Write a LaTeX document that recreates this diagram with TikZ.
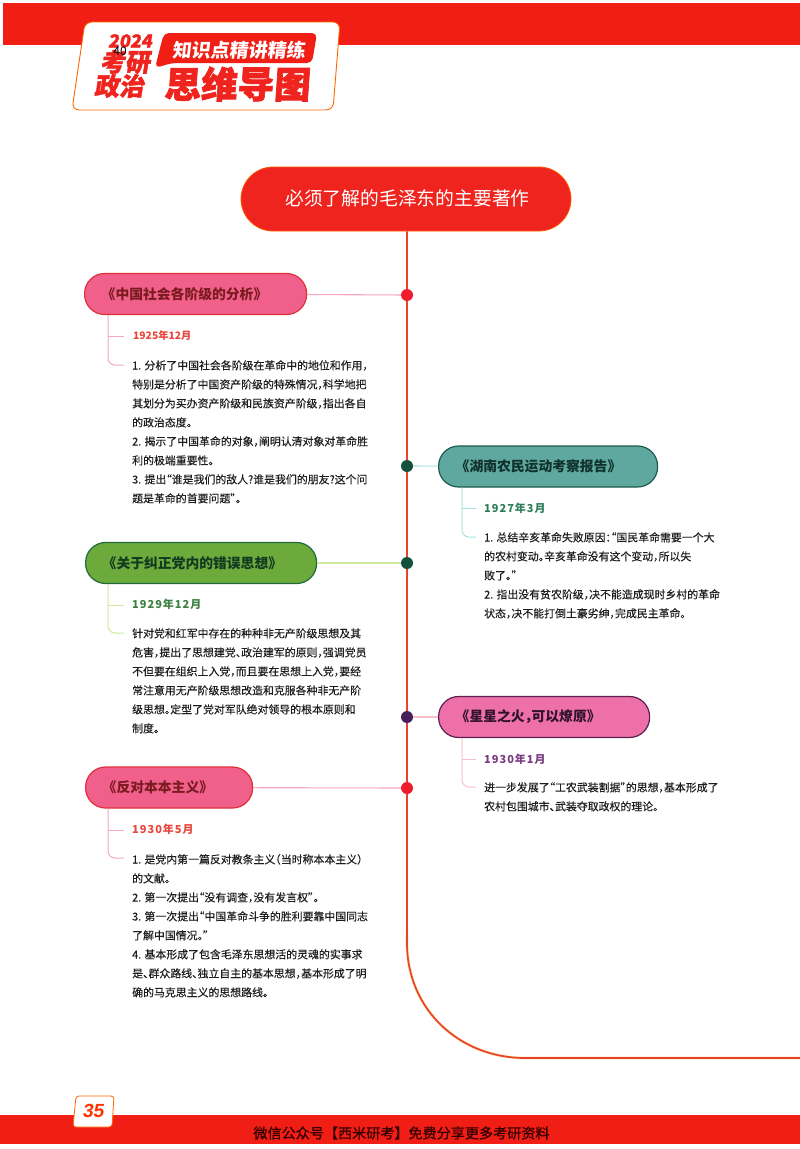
\documentclass[tikz,border=0pt]{standalone}
\usepackage{fontspec}
\setmainfont{Noto Sans CJK SC}[RawFeature=+halt]
\newfontfamily\bodyfont[RawFeature=+halt,FakeBold=0.35]{Noto Sans CJK SC}
\newfontfamily\datefont[LetterSpace=9]{Noto Sans CJK SC}
\newfontfamily\footfont[FakeBold=0.5]{Noto Sans CJK SC}
\newfontfamily\hdfont[FakeSlant=0.16,FakeBold=1.6]{Noto Sans CJK SC}
\newfontfamily\hdbig[FakeSlant=0.07,FakeBold=1.8]{Noto Sans CJK SC}
\newfontfamily\hdsmall[FakeSlant=0.12]{Noto Sans CJK SC}
\newfontfamily\numfont[FakeSlant=0.16]{Liberation Sans}
\usetikzlibrary{calc}
\definecolor{bandred}{HTML}{F01E14}
\definecolor{mainline}{HTML}{E9432E}
\definecolor{halo}{HTML}{FBE3A8}
\definecolor{bodyink}{HTML}{1E1E1E}
\definecolor{titlered}{HTML}{F0241E}
\definecolor{darkgreen}{HTML}{14503C}
\definecolor{plum}{HTML}{45205A}
\definecolor{dotred}{HTML}{EE1C2C}
\definecolor{pinkfill}{HTML}{F0608A}
\definecolor{pinkedge}{HTML}{E0303A}
\definecolor{tealfill}{HTML}{5FA8A0}
\definecolor{tealedge}{HTML}{1D5A50}
\definecolor{greenfill}{HTML}{6DAA3C}
\definecolor{greenedge}{HTML}{1F6B3A}
\definecolor{rosefill}{HTML}{EE70A8}
\definecolor{roseedge}{HTML}{5A2050}
\definecolor{pinklink}{HTML}{F5A8C0}
\definecolor{cyanlink}{HTML}{A8E0E0}
\definecolor{limelink}{HTML}{CDEB9A}
\definecolor{roselink}{HTML}{F5C0C8}
\definecolor{dred}{HTML}{E8453C}
\definecolor{dteal}{HTML}{2E7D5A}
\definecolor{dgreen}{HTML}{3C8040}
\definecolor{dplum}{HTML}{7A3A80}
\newcommand{\ptxt}[1]{\raisebox{-1.5pt}{#1}}
\tikzset{
  pill/.style n args={3}{draw=#2,fill=#1,line width=1.2pt,rounded corners=20pt,anchor=west,
    minimum height=41pt,text width=#3,inner xsep=24pt,inner ysep=0pt,align=left,
    font=\fontsize{13.8}{16}\selectfont\bfseries,text=#2!55!black},
  dotnode/.style={circle,fill=#1,inner sep=0pt,minimum size=12pt},
  datelabel/.style={anchor=west,inner sep=0pt,font=\fontsize{11}{12}\datefont\selectfont\bfseries,text=#1},
  bodytext/.style={anchor=north west,inner sep=0pt,align=left,text=bodyink,
    font=\bodyfont\fontsize{10.9}{19}\selectfont},
  subline/.style={draw=#1,line width=1pt},
  linkline/.style={draw=#1,line width=1.1pt}
}
\begin{document}
\begin{tikzpicture}[x=1pt,y=-1pt]
\useasboundingbox (0,0) rectangle (800,1149);
% header
\fill[bandred] (3,3) rectangle (800,45);
\draw[draw=orange!80!red,fill=white,line width=.9pt,rounded corners=7pt] (85,22) -- (340,22) -- (333,110) -- (72,110) -- cycle;
\fill[bandred,rounded corners=5pt] (164,33) -- (317,33) -- (312,63) -- (172,63) -- (155,68) -- (160,48) -- cycle;
\node[inner sep=0pt,text=titlered] (yr) at (130,41) {\hdfont\fontsize{18}{20}\selectfont\bfseries 2024};
\node[inner sep=0pt,text=titlered] (kaoyan) at (125,62) {\hdfont\fontsize{25}{25}\selectfont\bfseries 考研};
\node[inner sep=0pt,text=titlered] (zhengzhi) at (119,86) {\hdfont\fontsize{25}{25}\selectfont\bfseries 政治};
\node[inner sep=0pt,text=black] (pg) at (120,51) {\fontsize{12}{12}\selectfont 40};
\node[inner sep=0pt,text=white] (zsd) at (239,50) {\hdsmall\fontsize{19}{20}\selectfont\bfseries 知识点精讲精练};
\node[inner sep=0pt,text=titlered] (swdt) at (237,84) {\hdbig\fontsize{36.5}{38}\selectfont\bfseries 思维导图};
% footer
\fill[bandred] (0,1115) rectangle (800,1144);
\draw[draw=orange!80!red,fill=white,line width=.8pt,rounded corners=3pt] (76,1096) -- (114,1096) -- (112,1127) -- (73,1127) -- cycle;
\node[inner sep=0pt,text=orange!40!red] (num) at (93,1111) {\numfont\fontsize{19}{22}\selectfont\bfseries 35};
\node[inner sep=0pt,text=black!80!red] (foot) at (401.5,1133) {\footfont\fontsize{14.1}{15}\selectfont 微信公众号【西米研考】免费分享更多考研资料};
% title
\node[draw=orange!70!red,fill=titlered,line width=.8pt,rounded corners=32pt,minimum width=330pt,minimum height=64pt,inner sep=0pt,text=white] (title) at (406,199) {\raisebox{3pt}{\fontsize{18.8}{20}\selectfont\hspace{3pt}必须了解的毛泽东的主要著作}};
\coordinate (lineend) at (800,1058);
\coordinate (vmain) at (407,0);
% main line
\draw[halo,line width=2.8pt] (407,930) -- (407,943) .. controls (407,1010) and (460,1058) .. (525,1058) -- (lineend);
\draw[mainline,line width=1.7pt] (title.south -| vmain) -- (407,943) .. controls (407,1010) and (460,1058) .. (525,1058) -- (lineend);
% dots
\node[dotnode=dotred] (d1) at (407,295) {};
\node[dotnode=darkgreen] (d2) at (407,466) {};
\node[dotnode=darkgreen] (d3) at (407,563) {};
\node[dotnode=plum] (d4) at (407,717) {};
\node[dotnode=dotred] (d5) at (407,788) {};
% pills
\node[pill={pinkfill}{pinkedge}{174pt}] (p1) at (84,294) {\ptxt{《中国社会各阶级的分析》}};
\node[pill={tealfill}{tealedge}{171pt}] (p2) at (438,466.5) {\ptxt{《湖南农民运动考察报告》}};
\node[pill={greenfill}{greenedge}{183pt}] (p3) at (85,563) {\ptxt{《关于纠正党内的错误思想》}};
\node[pill={rosefill}{roseedge}{163pt}] (p4) at (438,717) {\ptxt{《星星之火，可以燎原》}};
\node[pill={pinkfill}{pinkedge}{119pt}] (p5) at (85,787.5) {\ptxt{《反对本本主义》}};
% links
\draw[linkline=pinklink] (p1) -- (d1);
\draw[linkline=cyanlink] (p2) -- (d2);
\draw[linkline=limelink] (p3) -- (d3);
\draw[linkline=roselink] (p4) -- (d4);
\draw[linkline=pinklink] (p5) -- (d5);
% dates
\node[datelabel=dred] (t1) at (133,336) {\addfontfeature{LetterSpace=0}\fontsize{10.3}{12}\selectfont 1925年12月};
\node[datelabel=dteal] (t2) at (484,508) {1927年3月};
\node[datelabel=dgreen] (t3) at (132,604.5) {1929年12月};
\node[datelabel=dplum] (t4) at (484,759) {1930年1月};
\node[datelabel=dred] (t5) at (132,829.5) {1930年5月};
% bodies
\node[bodytext] (b1) at (132,356) {\strut 1. 分析了中国社会各阶级在革命中的地位和作用，\\特别是分析了中国资产阶级的特殊情况，科学地把\\其划分为买办资产阶级和民族资产阶级，指出各自\\的政治态度。\\2. 揭示了中国革命的对象，阐明认清对象对革命胜\\利的极端重要性。\\3. 提出“谁是我们的敌人?谁是我们的朋友?这个问\\题是革命的首要问题”。};
\node[bodytext] (b2) at (484,528) {\strut 1. 总结辛亥革命失败原因：“国民革命需要一个大\\的农村变动。辛亥革命没有这个变动，所以失\\败了。”\\2. 指出没有贫农阶级，决不能造成现时乡村的革命\\状态，决不能打倒土豪劣绅，完成民主革命。};
\node[bodytext] (b3) at (132,624) {\strut 针对党和红军中存在的种种非无产阶级思想及其\\危害，提出了思想建党、政治建军的原则，强调党员\\不但要在组织上入党，而且要在思想上入党，要经\\常注意用无产阶级思想改造和克服各种非无产阶\\级思想。定型了党对军队绝对领导的根本原则和\\制度。};
\node[bodytext] (b4) at (484,778) {\strut 进一步发展了“工农武装割据”的思想，基本形成了\\农村包围城市、武装夺取政权的理论。};
\node[bodytext] (b5) at (132,850) {\strut 1. 是党内第一篇反对教条主义（当时称本本主义）\\的文献。\\2. 第一次提出“没有调查，没有发言权”。\\3. 第一次提出“中国革命斗争的胜利要靠中国同志\\了解中国情况。”\\4. 基本形成了包含毛泽东思想活的灵魂的实事求\\是、群众路线、独立自主的基本思想，基本形成了明\\确的马克思主义的思想路线。};
% sublines
\coordinate (vleft) at (108,0); \coordinate (vright) at (462,0);
\coordinate (e1) at (124,365); \coordinate (e2) at (476,537); \coordinate (e3) at (124,633);
\coordinate (e4) at (476,787); \coordinate (e5) at (124,858);
\coordinate (k1) at (124,336); \coordinate (k2) at (476,508); \coordinate (k3) at (124,605);
\coordinate (k4) at (476,759); \coordinate (k5) at (124,830);
\foreach \pp/\ee/\kk/\vv/\cc in {p1/e1/k1/vleft/pinklink,p2/e2/k2/vright/cyanlink,p3/e3/k3/vleft/limelink,p4/e4/k4/vright/roselink,p5/e5/k5/vleft/pinklink}{
  \draw[subline=\cc,rounded corners=7pt] (\pp.south -| \vv) |- (\ee);
  \draw[subline=\cc] (\kk -| \vv) -- (\kk);
}
\end{tikzpicture}
\end{document}
